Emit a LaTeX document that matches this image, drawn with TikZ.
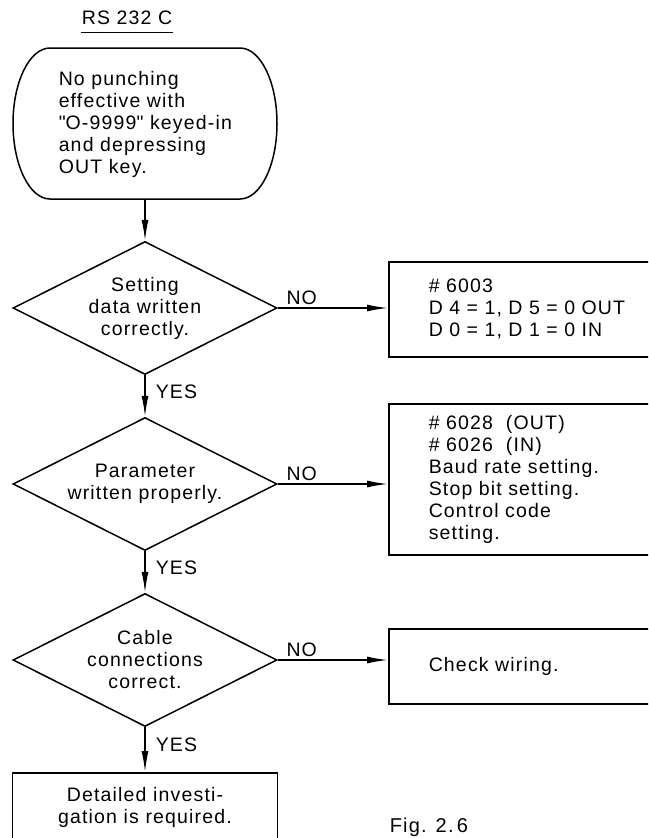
\documentclass[tikz,border=0pt]{standalone}
\usepackage{fontspec}
\setmainfont{Liberation Sans}[LetterSpace=6]
\usetikzlibrary{shapes.geometric,arrows.meta}

\begin{document}
\begin{tikzpicture}[x=1pt,y=-1pt,
  line width=1.5pt,
  every node/.style={font=\fontsize{19.5}{22}\selectfont},
  decision/.style={draw, diamond, aspect=2, minimum width=264pt, minimum height=133pt,
    inner sep=0pt, align=center},
  infobox/.style={draw, rectangle, anchor=north west, inner sep=0pt,
    text width=250pt, align=left, minimum width=330pt},
  endbox/.style={draw, rectangle, anchor=north, inner sep=0pt,
    minimum width=265pt, minimum height=69pt, align=center},
  flow/.style={-{Latex[length=21pt,width=7pt]}},
  yeslabel/.style={right, inner sep=3pt, xshift=7pt, pos=0.4},
  nolabel/.style={anchor=south west, inner sep=3pt, xshift=5pt, pos=0}
]
\useasboundingbox (0,0) rectangle (648,838);
\clip (0,0) rectangle (648,838);

% heading
\node[font=\fontsize{19.5}{22}\selectfont, inner sep=0pt] (title) at (127,18) {RS 232 C};
\draw[line width=1.3pt] ([yshift=-7.5pt]title.base west) -- ([yshift=-7.5pt]title.base east);

% start terminal
\draw (50,48) -- (240,48)
  .. controls (260.4,48) and (277,81.8) .. (277,123.5)
  .. controls (277,165.2) and (260.4,199) .. (240,199)
  -- (50,199)
  .. controls (29.6,199) and (13,165.2) .. (13,123.5)
  .. controls (13,81.8) and (29.6,48) .. (50,48) -- cycle;
\node[align=left, anchor=west, inner sep=0pt] (start) at (58,124)
  {No punching\\effective with\\\textquotedbl O-9999\textquotedbl{} keyed-in\\and depressing\\OUT key.};
\coordinate (startbot) at (145,199);

% decisions
\node[decision] (d1) at (145,308) {Setting\\data written\\correctly.};
\node[decision] (d2) at (145,484) {Parameter\\written properly.};
\node[decision] (d3) at (145,660) {Cable\\connections\\correct.};

% actions
\node[infobox, minimum height=95pt] (b1) at (388,261)
  {\# 6003\\D 4 = 1, D 5 = 0 OUT\\D 0 = 1, D 1 = 0 IN};
\node[infobox, minimum height=151pt] (b2) at (388,403)
  {\# 6028 \ (OUT)\\\# 6026 \ (IN)\\Baud rate setting.\\Stop bit setting.\\Control code\\setting.};
\node[infobox, minimum height=75pt] (b3) at (388,628) {Check wiring.};
\node[endbox] (fin) at (145,772) {Detailed investi-\\gation is required.};

% connectors
\draw[flow] (startbot) -- (d1.north);
\draw[flow] (d1.south) -- node[yeslabel] {YES} (d2.north);
\draw[flow] (d2.south) -- node[yeslabel] {YES} (d3.north);
\draw[flow] (d3.south) -- node[yeslabel] {YES} (fin.north);
\draw[flow] (d1.east) -- node[nolabel] {NO} (d1.east -| b1.west);
\draw[flow] (d2.east) -- node[nolabel] {NO} (d2.east -| b2.west);
\draw[flow] (d3.east) -- node[nolabel] {NO} (d3.east -| b3.west);

% caption
\node[anchor=west, inner sep=0pt, font=\fontsize{20}{22}\selectfont] (fig) at (389,827) {Fig. 2.\,6};
\end{tikzpicture}
\end{document}
